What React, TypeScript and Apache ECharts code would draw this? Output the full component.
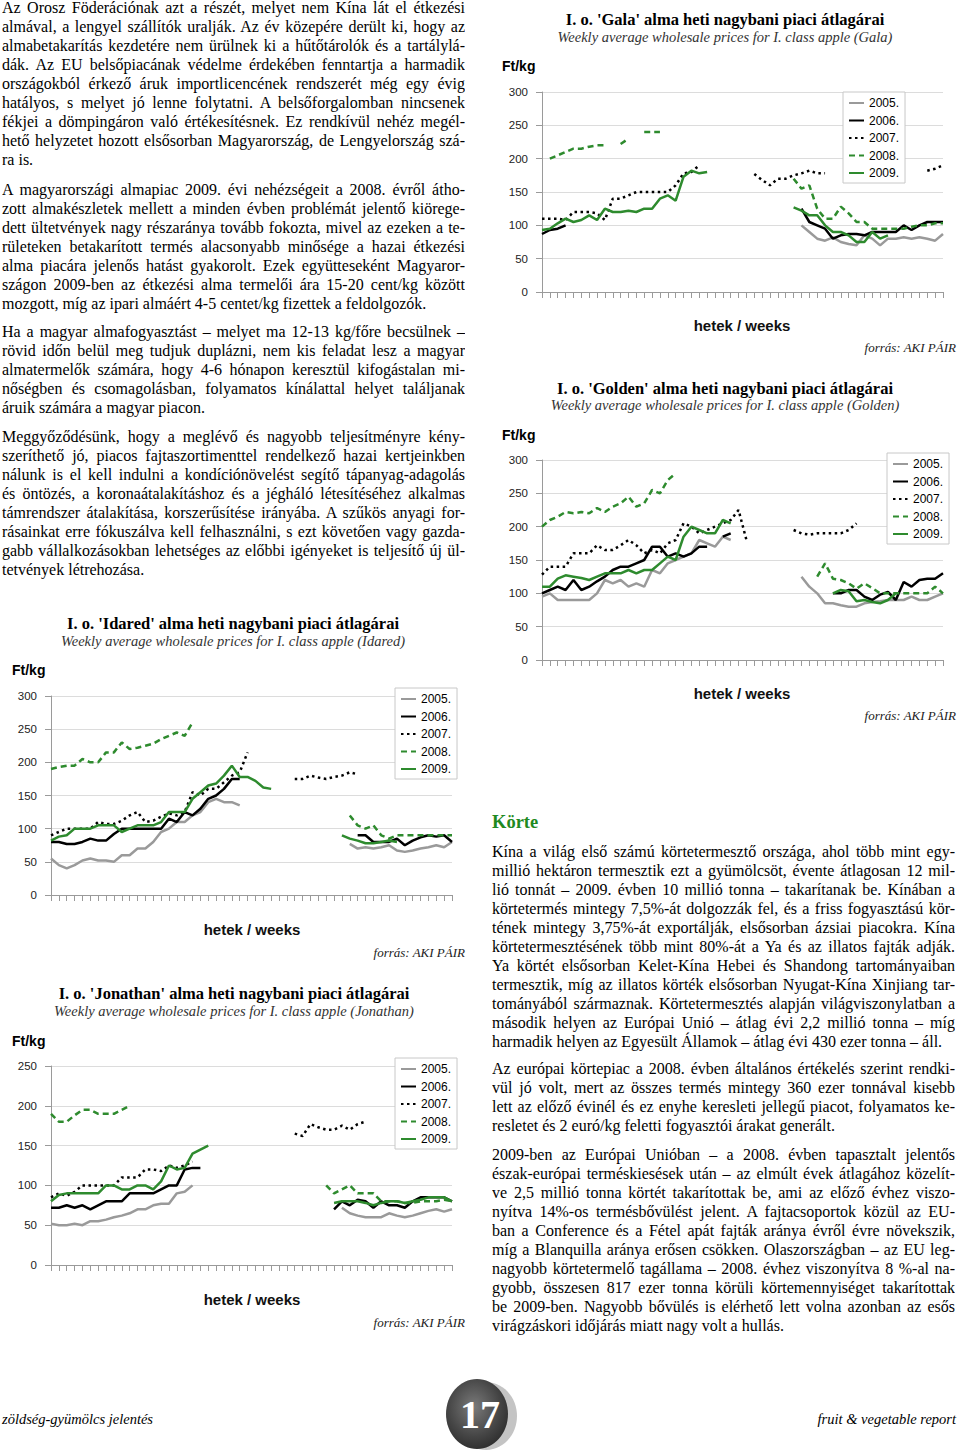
import React, { useEffect, useRef } from 'react';
import * as echarts from 'echarts';

const _ = null;

const WEEKS = ['1','2','3','4','5','6','7','8','9','10','11','12','13','14','15','16','17','18','19','20','21','22','23','24','25','26','27','28','29','30','31','32','33','34','35','36','37','38','39','40','41','42','43','44','45','46','47','48','49','50','51','52'];
const YEARS = ['2005.', '2006.', '2007.', '2008.', '2009.'];
const Y_TICKS_300 = [0, 300, 50];
const Y_TICKS_250 = [0, 250, 50];

// ---------- Gala ----------
const GALA_2005 = [
  _,_,_,_,_,_,_,_,_,_,
  _,_,_,_,_,_,_,_,_,_,
  _,_,_,_,_,_,_,_,_,_,
  _,_,_,100,90,80,77,82,75,72,
  70,85,80,70,80,80,82,80,82,80,
  77,87];
const GALA_2006 = [
  87,93,95,100,_,_,_,_,_,_,
  _,_,_,_,_,_,_,_,_,_,
  _,_,_,_,_,_,_,_,_,_,
  _,_,_,125,105,100,95,80,85,87,
  87,85,90,90,90,90,100,93,100,105,
  105,105];
const GALA_2007 = [
  110,110,110,108,120,120,120,118,108,140,
  140,145,150,150,150,150,150,160,178,180,
  190,_,_,_,_,_,_,177,168,160,
  170,170,175,178,182,178,178,_,_,_,
  _,_,_,_,_,_,_,_,_,182,
  185,190];
const GALA_2008 = [
  _,200,205,210,215,215,218,220,220,_,
  222,230,_,240,240,240,_,_,_,_,
  _,_,_,_,_,_,_,_,_,_,
  _,_,170,155,160,125,110,110,128,118,
  105,105,95,95,95,95,95,98,100,100,
  103,103];
const GALA_2009 = [
  93,95,103,110,105,108,115,108,125,120,
  120,122,120,125,125,140,145,137,173,182,
  178,180,_,_,_,_,_,_,_,_,
  _,_,127,122,115,115,100,90,90,85,
  75,75,90,80,85,_,_,_,_,_,
  _,_];

// ---------- Golden ----------
const GOLDEN_2005 = [
  95,100,90,90,90,90,90,100,120,115,
  120,110,115,110,135,130,145,150,155,160,
  180,175,170,185,180,_,_,_,_,_,
  _,_,_,125,110,100,85,85,82,80,
  80,85,87,88,90,90,90,95,90,90,
  95,100];
const GOLDEN_2006 = [
  100,105,110,105,120,105,110,118,125,135,
  140,140,145,150,170,170,155,160,155,160,
  170,170,_,185,190,_,_,_,_,_,
  _,_,_,_,_,_,_,100,100,105,
  105,95,90,98,102,90,117,110,120,122,
  122,130];
const GOLDEN_2007 = [
  128,140,140,140,160,160,160,172,165,165,
  172,180,172,160,165,160,175,180,205,200,
  190,195,200,205,210,225,180,_,_,_,
  _,_,195,190,188,190,190,190,190,195,
  205,_,_,_,_,_,_,_,_,_,
  _,_];
const GOLDEN_2008 = [
  200,210,215,222,220,222,220,228,222,230,
  235,245,230,235,255,250,270,280,_,_,
  _,_,_,_,_,_,_,_,_,_,
  _,_,_,_,_,125,145,122,120,115,
  107,115,108,100,100,100,100,100,100,100,
  110,100];
const GOLDEN_2009 = [
  110,110,122,127,125,123,120,125,130,130,
  130,135,130,135,135,145,155,150,185,200,
  195,190,190,210,205,_,_,_,_,_,
  _,_,_,_,_,_,_,100,105,103,
  88,90,87,85,90,100,_,_,_,_,
  _,_];

// ---------- Idared ----------
const IDARED_2005 = [
  55,45,40,45,52,55,52,52,50,60,
  60,70,70,80,95,100,110,110,120,125,
  140,145,140,140,135,_,_,_,_,_,
  _,_,_,_,_,_,_,_,77,70,
  72,70,72,75,67,65,67,70,72,75,
  72,80];
const IDARED_2006 = [
  80,80,77,77,80,85,82,82,92,100,
  100,100,100,100,100,115,110,125,120,130,
  145,150,160,175,175,_,_,_,_,_,
  _,_,_,_,_,_,_,_,_,90,
  90,80,80,80,85,75,82,87,90,88,
  90,80];
const IDARED_2007 = [
  90,95,100,100,100,100,110,107,107,112,
  120,125,110,112,118,123,120,125,155,150,
  160,160,170,180,185,215,_,_,_,_,
  _,175,175,180,177,175,178,180,185,182,
  _,_,_,_,_,_,_,_,_,_,
  _,_];
const IDARED_2008 = [
  190,193,195,195,205,200,200,215,215,230,
  220,222,225,228,235,240,245,240,260,_,
  _,_,_,_,_,_,_,_,_,_,
  _,_,_,_,_,_,_,_,120,105,
  100,105,90,85,90,90,90,90,90,90,
  90,90];
const IDARED_2009 = [
  82,88,90,100,100,100,105,105,105,95,
  100,105,105,105,110,125,125,125,145,155,
  165,168,180,195,178,178,172,162,160,_,
  _,_,_,_,_,_,_,90,85,82,
  78,78,80,82,80,_,_,_,_,_,
  _,_];

// ---------- Jonathan ----------
const JON_2005 = [
  52,50,50,52,50,55,55,57,60,62,
  65,70,70,75,77,77,90,92,100,_,
  _,_,_,_,_,_,_,_,_,_,
  _,_,_,_,_,_,_,72,65,62,
  60,60,60,65,62,60,62,65,68,70,
  67,70];
const JON_2006 = [
  72,72,75,72,75,70,75,80,80,80,
  90,90,90,90,95,100,100,120,122,122,
  _,_,_,_,_,_,_,_,_,_,
  _,_,_,_,_,_,70,80,75,82,
  80,72,80,75,75,72,80,85,85,85,
  85,80];
const JON_2007 = [
  85,90,87,92,100,100,100,100,100,110,
  110,110,120,120,118,125,122,125,130,_,
  _,_,_,_,_,_,_,_,_,_,
  _,165,162,177,173,170,170,175,170,177,
  180,_,_,_,_,_,_,_,_,_,
  _,_];
const JON_2008 = [
  190,180,180,188,195,195,190,190,190,195,
  200,_,_,_,_,_,_,_,_,_,
  _,_,_,_,_,_,_,_,_,_,
  _,_,_,_,_,100,90,95,100,90,
  90,90,80,80,80,78,78,80,80,80,
  82,80];
const JON_2009 = [
  80,88,90,90,90,90,90,100,100,95,
  95,100,100,95,105,125,120,122,140,145,
  150,_,_,_,_,_,_,_,_,_,
  _,_,_,_,_,_,78,80,80,80,
  78,75,78,80,80,78,80,82,85,85,
  85,80];

const TITLES = [
  "I. o. 'Gala' alma heti nagybani piaci átlagárai",
  "I. o. 'Golden' alma heti nagybani piaci átlagárai",
  "I. o. 'Idared' alma heti nagybani piaci átlagárai",
  "I. o. 'Jonathan' alma heti nagybani piaci átlagárai",
];
const SUBTITLES = [
  'Weekly average wholesale prices for I. class apple (Gala)',
  'Weekly average wholesale prices for I. class apple (Golden)',
  'Weekly average wholesale prices for I. class apple (Idared)',
  'Weekly average wholesale prices for I. class apple (Jonathan)',
];
const SERIES_DATA = [
  [GALA_2005, GALA_2006, GALA_2007, GALA_2008, GALA_2009],
  [GOLDEN_2005, GOLDEN_2006, GOLDEN_2007, GOLDEN_2008, GOLDEN_2009],
  [IDARED_2005, IDARED_2006, IDARED_2007, IDARED_2008, IDARED_2009],
  [JON_2005, JON_2006, JON_2007, JON_2008, JON_2009],
];
const Y_RANGES = [Y_TICKS_300, Y_TICKS_300, Y_TICKS_300, Y_TICKS_250];

// ---------- layout & styles ----------
const LAYOUT = [
  { grid: { left: 542, top: 92, width: 401, height: 200 }, legend: { left: 843, top: 92 }, tx: 725, ty: 19, sy: 37, fx: 502, fy: 66, hx: 742, hy: 325, rx: 956, ry: 347 },
  { grid: { left: 542, top: 460, width: 401, height: 200 }, legend: { left: 887, top: 453 }, tx: 725, ty: 388, sy: 405, fx: 502, fy: 435, hx: 742, hy: 693, rx: 956, ry: 715 },
  { grid: { left: 51, top: 696, width: 401, height: 199 }, legend: { left: 395, top: 688 }, tx: 233, ty: 623, sy: 641, fx: 12, fy: 670, hx: 252, hy: 929, rx: 465, ry: 952 },
  { grid: { left: 51, top: 1066, width: 401, height: 199 }, legend: { left: 395, top: 1058 }, tx: 234, ty: 993, sy: 1011, fx: 12, fy: 1041, hx: 252, hy: 1299, rx: 465, ry: 1322 },
];
const GREEN = '#2e8b2e';
const LINE_STYLES: any[] = [
  { color: '#9a9a9a', width: 2.5, type: 'solid' },
  { color: '#000000', width: 2.5, type: 'solid' },
  { color: '#000000', width: 2.5, type: [2.5, 3.5] },
  { color: GREEN, width: 2.5, type: [6, 4] },
  { color: GREEN, width: 2.5, type: 'solid' },
];

const SERIF = '"Liberation Serif", "Times New Roman", serif';
const SANS = '"Liberation Sans", Arial, sans-serif';

// ---------- article text ----------
const LEFT_PARAS = [
  { top: -2, lines: [
    'Az Orosz Föderációnak azt a részét, melyet nem Kína lát el étkezési',
    'almával, a lengyel szállítók uralják. Az év közepére derült ki, hogy az',
    'almabetakarítás kezdetére nem ürülnek ki a hűtőtárolók és a tartálylá-',
    'dák. Az EU belsőpiacának védelme érdekében fenntartja a harmadik',
    'országokból érkező áruk importlicencének rendszerét még egy évig',
    'hatályos, s melyet jó lenne folytatni. A belsőforgalomban nincsenek',
    'fékjei a dömpingáron való értékesítésnek. Ez rendkívül nehéz megél-',
    'hető helyzetet hozott elsősorban Magyarország, de Lengyelország szá-',
    'ra is.',
  ] },
  { top: 180, lines: [
    'A magyarországi almapiac 2009. évi nehézségeit a 2008. évről átho-',
    'zott almakészletek mellett a minden évben problémát jelentő kiörege-',
    'dett ültetvények nagy részaránya tovább fokozta, mivel az ezeken a te-',
    'rületeken betakarított termés alacsonyabb minősége a hazai étkezési',
    'alma piacára jelenős hatást gyakorolt. Ezek együtteseként Magyaror-',
    'szágon 2009-ben az étkezési alma termelői ára 15-20 cent/kg között',
    'mozgott, míg az ipari almáért 4-5 centet/kg fizettek a feldolgozók.',
  ] },
  { top: 322, lines: [
    'Ha a magyar almafogyasztást – melyet ma 12-13 kg/főre becsülnek –',
    'rövid időn belül meg tudjuk duplázni, nem kis feladat lesz a magyar',
    'almatermelők számára, hogy 4-6 hónapon keresztül kifogástalan mi-',
    'nőségben és csomagolásban, folyamatos kínálattal helyet találjanak',
    'áruik számára a magyar piacon.',
  ] },
  { top: 427, lines: [
    'Meggyőződésünk, hogy a meglévő és nagyobb teljesítményre kény-',
    'szeríthető jó, piacos fajtaszortimenttel rendelkező hazai kertjeinkben',
    'nálunk is el kell indulni a kondíciónövelést segítő tápanyag-adagolás',
    'és öntözés, a koronaátalakításhoz és a jégháló létesítéséhez alkalmas',
    'támrendszer átalakítása, korszerűsítése irányába. A szűkös anyagi for-',
    'rásainkat erre fókuszálva kell felhasználni, s ezt követően vagy gazda-',
    'gabb vállalkozásokban lehetséges az előbbi igényeket is teljesítő új ül-',
    'tetvények létrehozása.',
  ] },
];
const RIGHT_HEADING = 'Körte';
const RIGHT_PARAS = [
  { top: 842, lines: [
    'Kína a világ első számú körtetermesztő országa, ahol több mint egy-',
    'millió hektáron termesztik ezt a gyümölcsöt, évente átlagosan 12 mil-',
    'lió tonnát – 2009. évben 10 millió tonna – takarítanak be. Kínában a',
    'körtetermés mintegy 7,5%-át dolgozzák fel, és a friss fogyasztású kör-',
    'tének mintegy 3,75%-át exportálják, elsősorban ázsiai piacokra. Kína',
    'körtetermesztésének több mint 80%-át a Ya és az illatos fajták adják.',
    'Ya körtét elsősorban Kelet-Kína Hebei és Shandong tartományaiban',
    'termesztik, míg az illatos körték elsősorban Nyugat-Kína Xinjiang tar-',
    'tományából származnak. Körtetermesztés alapján világviszonylatban a',
    'második helyen az Európai Unió – átlag évi 2,2 millió tonna – míg',
    'harmadik helyen az Egyesült Államok – átlag évi 430 ezer tonna – áll.',
  ] },
  { top: 1059, lines: [
    'Az európai körtepiac a 2008. évben általános értékelés szerint rendki-',
    'vül jó volt, mert az összes termés mintegy 360 ezer tonnával kisebb',
    'lett az előző évinél és ez enyhe keresleti jellegű piacot, folyamatos ke-',
    'resletet és 2 euró/kg feletti fogyasztói árakat generált.',
  ] },
  { top: 1145, lines: [
    '2009-ben az Európai Unióban – a 2008. évben tapasztalt jelentős',
    'észak-európai terméskiesések után – az elmúlt évek átlagához közelít-',
    've 2,5 millió tonna körtét takarítottak be, ami az előző évhez viszo-',
    'nyítva 14%-os termésbővülést jelent. A fajtacsoportok közül az EU-',
    'ban a Conference és a Fétel apát fajták aránya évről évre növekszik,',
    'míg a Blanquilla aránya erősen csökken. Olaszországban – az EU leg-',
    'nagyobb körtetermelő tagállama – 2008. évhez viszonyítva 8 %-al na-',
    'gyobb, összesen 817 ezer tonna körüli körtemennyiséget takarítottak',
    'be 2009-ben. Nagyobb bővülés is elérhető lett volna azonban az esős',
    'virágzáskori időjárás miatt nagy volt a hullás.',
  ] },
];
const FOOTER_LEFT = 'zöldség-gyümölcs jelentés';
const FOOTER_RIGHT = 'fruit & vegetable report';
const PAGE_NO = '17';

function txt(x: number, y: number, text: string, o: any) {
  return {
    type: 'text', x, y, silent: true,
    style: {
      text, fill: o.fill || '#000', fontSize: o.size, fontFamily: o.family, fontWeight: o.weight || 'normal', fontStyle: o.style || 'normal',
      align: o.align || 'left', textAlign: o.align || 'left', verticalAlign: 'middle', textVerticalAlign: 'middle',
    },
  };
}

function buildOption() {
  const grids: any[] = [];
  const xAxes: any[] = [];
  const yAxes: any[] = [];
  const series: any[] = [];
  const legends: any[] = [];
  const graphics: any[] = [];

  LAYOUT.forEach((L, k) => {
    grids.push({ ...L.grid, containLabel: false });
    xAxes.push({
      type: 'category', gridIndex: k, data: WEEKS, boundaryGap: false,
      axisLine: { show: true, lineStyle: { color: '#9a9a9a', width: 1 } },
      axisTick: { show: true, interval: 0, length: 6, lineStyle: { color: '#9a9a9a' } },
      axisLabel: { show: false }, splitLine: { show: false },
    });
    const [mn, mx, iv] = Y_RANGES[k];
    yAxes.push({
      type: 'value', gridIndex: k, min: mn, max: mx, interval: iv,
      axisLine: { show: true, lineStyle: { color: '#9a9a9a', width: 1 } },
      axisTick: { show: true, length: 6, lineStyle: { color: '#9a9a9a' } },
      axisLabel: { margin: 14, fontSize: 11.5, fontFamily: SANS, color: '#222' },
      splitLine: { show: true, lineStyle: { color: '#dcdcdc', width: 1 } },
    });
    SERIES_DATA[k].forEach((arr, j) => {
      series.push({
        type: 'line', name: YEARS[j], xAxisIndex: k, yAxisIndex: k, data: arr,
        symbol: 'none', showSymbol: false, connectNulls: false, silent: true,
        lineStyle: LINE_STYLES[j], itemStyle: { color: LINE_STYLES[j].color },
        z: 2 + j,
      });
    });
    legends.push({
      orient: 'vertical', left: L.legend.left, top: L.legend.top, data: YEARS,
      itemWidth: 15, itemHeight: 10, itemGap: 5.5, padding: [5, 6, 4, 5],
      borderColor: '#c8c8c8', borderWidth: 1, backgroundColor: '#fff', selectedMode: false,
      itemStyle: { opacity: 0 },
      textStyle: { fontFamily: SANS, fontSize: 12, color: '#000' },
    });
    graphics.push(txt(L.tx, L.ty, TITLES[k], { size: 16.5, family: SERIF, weight: 'bold', align: 'center' }));
    graphics.push(txt(L.tx, L.sy, SUBTITLES[k], { size: 14.5, family: SERIF, style: 'italic', align: 'center', fill: '#333' }));
    graphics.push(txt(L.fx, L.fy, 'Ft/kg', { size: 14, family: SANS, weight: 'bold' }));
    graphics.push(txt(L.hx, L.hy, 'hetek / weeks', { size: 15, family: SANS, weight: 'bold', align: 'center', fill: '#111' }));
    graphics.push(txt(L.rx, L.ry, 'forrás: AKI PÁIR', { size: 13, family: SERIF, style: 'italic', align: 'right', fill: '#222' }));
  });

  // footer
  graphics.push(txt(2, 1419, FOOTER_LEFT, { size: 14.5, family: SERIF, style: 'italic' }));
  graphics.push(txt(956, 1419, FOOTER_RIGHT, { size: 14.5, family: SERIF, style: 'italic', align: 'right' }));
  graphics.push({ type: 'ellipse', silent: true, shape: { cx: 486, cy: 1416, rx: 31, ry: 34 }, style: { fill: '#c4c4c4' } });
  graphics.push({
    type: 'ellipse', silent: true, shape: { cx: 477, cy: 1414, rx: 31, ry: 35 },
    style: {
      fill: new echarts.graphic.RadialGradient(0.45, 0.4, 0.7, [
        { offset: 0, color: '#7a7a7a' }, { offset: 0.6, color: '#454545' }, { offset: 1, color: '#262626' },
      ]),
    },
  });
  graphics.push(txt(480, 1414, PAGE_NO, { size: 40, family: SERIF, weight: 'bold', align: 'center', fill: '#fff' }));

  return {
    animation: false,
    backgroundColor: 'transparent',
    grid: grids, xAxis: xAxes, yAxis: yAxes, series, legend: legends,
    graphic: { elements: graphics },
  };
}

function Para({ left, top, width, lines }: { left: number; top: number; width: number; lines: string[] }) {
  return (
    <div style={{ position: 'absolute', left, top, width }}>
      {lines.map((ln, i) => (
        <div key={i} style={{
          height: 19, lineHeight: '19px', overflow: 'hidden',
          textAlign: 'justify', textAlignLast: i === lines.length - 1 ? 'left' : 'justify',
        } as any}>{ln}</div>
      ))}
    </div>
  );
}

export default function App() {
  const ref = useRef<HTMLDivElement>(null);
  useEffect(() => {
    const chart = echarts.init(ref.current as HTMLDivElement, null, { renderer: 'svg' });
    chart.setOption(buildOption() as any);
    return () => chart.dispose();
  }, []);
  return (
    <div style={{ position: 'absolute', left: 0, top: 0, width: 960, height: 1454, overflow: 'hidden', background: '#fff' }}>
      <div ref={ref} style={{ position: 'absolute', left: 0, top: 0, width: 960, height: 1454 }} />
      <div style={{ position: 'absolute', left: 0, top: 0, width: 960, height: 1454, pointerEvents: 'none',
        fontFamily: SERIF, fontSize: 16, color: '#000' }}>
        {LEFT_PARAS.map((p, i) => <Para key={'l' + i} left={2} top={p.top} width={463} lines={p.lines} />)}
        <div style={{ position: 'absolute', left: 492, top: 810, fontSize: 18.5, fontWeight: 'bold', color: '#1f8a1f', lineHeight: '24px' }}>{RIGHT_HEADING}</div>
        {RIGHT_PARAS.map((p, i) => <Para key={'r' + i} left={492} top={p.top} width={463} lines={p.lines} />)}
      </div>
    </div>
  );
}
